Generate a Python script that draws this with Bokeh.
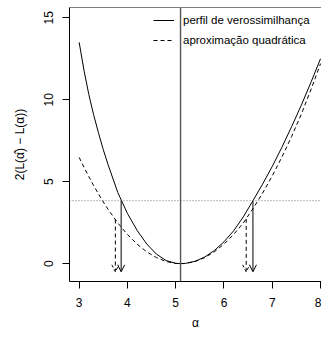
from bokeh.plotting import figure
from bokeh.models import (Range1d, FixedTicker, Span, Arrow, OpenHead,
                          ColumnDataSource, Legend, LegendItem)
from bokeh.embed import file_html
from bokeh.resources import INLINE

# ---- data ----
alpha = [3.0, 3.1, 3.2, 3.3, 3.4, 3.5, 3.6, 3.8, 4.0, 4.2, 4.4, 4.6, 4.8, 5.0, 5.1,
         5.2, 5.4, 5.6, 5.8, 6.0, 6.2, 6.4, 6.6, 6.8, 7.0, 7.2, 7.4, 7.6, 7.8, 8.0]
perfil = [13.5, 11.8, 10.32, 9.08, 7.98, 6.95, 6.03, 4.34, 3.06, 2.03, 1.2, 0.58, 0.19, 0.02, 0.0,
          0.015, 0.14, 0.40, 0.80, 1.33, 2.0, 2.85, 3.84, 4.85, 5.93, 7.1, 8.35, 9.65, 11.05, 12.5]
quadratica = [6.48, 5.88, 5.31, 4.76, 4.25, 3.76, 3.31, 2.48, 1.78, 1.19, 0.72, 0.37, 0.13, 0.01, 0.0,
              0.01, 0.13, 0.37, 0.72, 1.19, 1.78, 2.48, 3.35, 4.3, 5.35, 6.5, 7.75, 9.1, 10.6, 12.2]
mle = 5.1
limiar = 3.84
seta_perfil_x = [3.87, 6.6]
seta_perfil_y0 = [3.84, 3.84]
seta_quad_x = [3.75, 6.46]
seta_quad_y0 = [2.69, 2.73]
seta_y1 = [-0.5, -0.5]
x_ticks = [3, 4, 5, 6, 7, 8]
y_ticks = [0, 5, 10, 15]
rotulos = ["perfil de verossimilhança", "aproximação quadrática"]

FONT = "Liberation Sans"

p = figure(width=321, height=332,
           x_range=Range1d(2.8, 8.02), y_range=Range1d(-1.09, 15.624),
           output_backend="svg", toolbar_location=None,
           min_border_left=69, min_border_right=0, min_border_top=7,
           min_border_bottom=49)
p.outline_line_color = None
p.grid.visible = False
p.background_fill_color = "white"
p.border_fill_color = "white"

p.xaxis.ticker = FixedTicker(ticks=x_ticks)
p.yaxis.ticker = FixedTicker(ticks=y_ticks)
p.xaxis.axis_label = "α"
p.yaxis.axis_label = "2(L(α̂) − L(α))"
for ax in (p.xaxis[0], p.yaxis[0]):
    ax.axis_line_color = "black"
    ax.axis_line_width = 1
    ax.major_tick_line_color = "black"
    ax.minor_tick_line_color = None
    ax.major_tick_out = 7
    ax.major_tick_in = 0
    ax.major_label_text_font = FONT
    ax.major_label_text_font_size = "12px"
    ax.major_label_text_color = "black"
    ax.axis_label_text_font = FONT
    ax.axis_label_text_font_size = "12px"
    ax.axis_label_text_font_style = "normal"
    ax.axis_label_text_color = "black"
p.xaxis.major_label_standoff = 9
p.xaxis.axis_label_standoff = 6
p.yaxis.major_label_orientation = "vertical"
p.yaxis.major_label_standoff = 9
p.yaxis.axis_label_standoff = 15

# top border of the box
p.add_layout(Span(location=p.y_range.end, dimension="width", line_color="black", line_width=1))

# reference lines
p.add_layout(Span(location=limiar, dimension="width", line_color="#777777",
                  line_width=1, line_dash="1 2"))
p.add_layout(Span(location=mle, dimension="height", line_color="#555555", line_width=1.4))

r1 = p.line(alpha, perfil, line_color="black", line_width=1)
r2 = p.line(alpha, quadratica, line_color="black", line_width=1, line_dash="4 3")

src_p = ColumnDataSource(dict(x=seta_perfil_x, y0=seta_perfil_y0, y1=seta_y1))
src_q = ColumnDataSource(dict(x=seta_quad_x, y0=seta_quad_y0, y1=seta_y1))
p.add_layout(Arrow(end=OpenHead(size=7, line_width=1, line_color="black"),
                   x_start="x", y_start="y0", x_end="x", y_end="y1",
                   line_color="black", line_width=1, source=src_p))
p.add_layout(Arrow(end=OpenHead(size=7, line_width=1, line_color="black", line_dash="3 2"),
                   x_start="x", y_start="y0", x_end="x", y_end="y1",
                   line_color="black", line_width=1, line_dash="4 3", source=src_q))

legend = Legend(items=[LegendItem(label=rotulos[0], renderers=[r1]),
                       LegendItem(label=rotulos[1], renderers=[r2])],
                location=(84, 231), border_line_color=None, background_fill_alpha=0,
                padding=0, spacing=0, margin=0, glyph_width=21, glyph_height=20,
                label_height=20, label_standoff=9, label_text_font=FONT,
                label_text_font_size="11.5px", label_text_color="black")
p.add_layout(legend)

open("out.html", "w").write(file_html(p, INLINE))
